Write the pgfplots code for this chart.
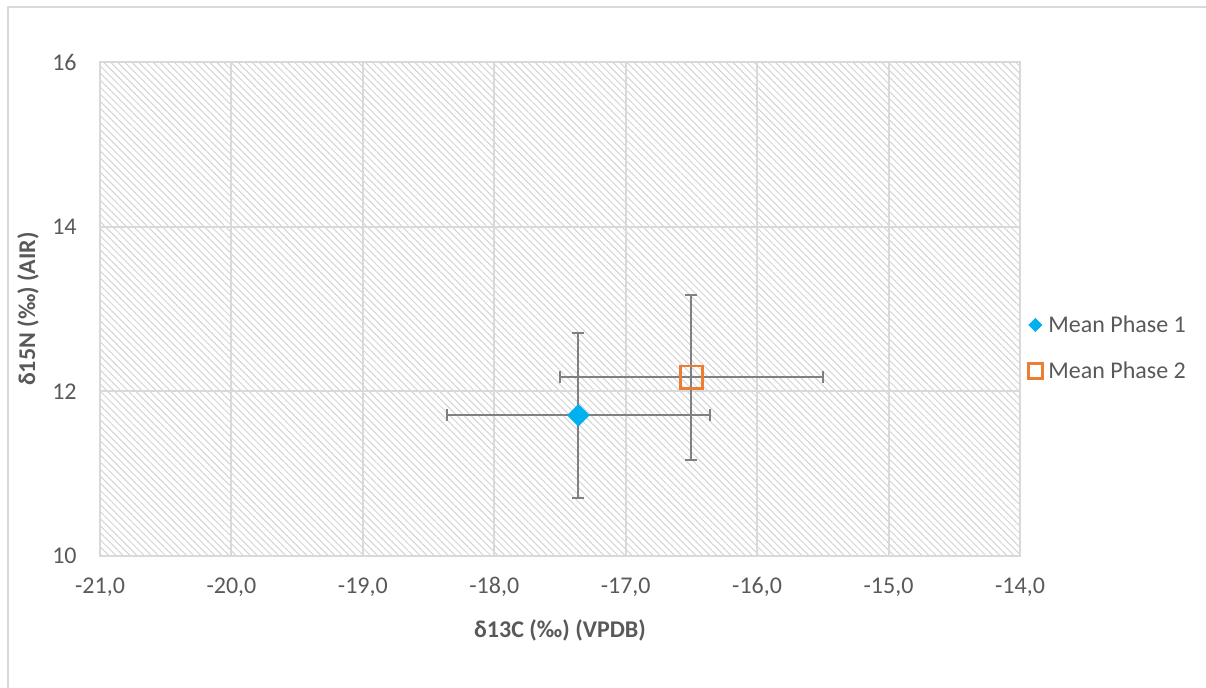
\documentclass[border=0pt]{standalone}
\usepackage{pgfplots}
\pgfplotsset{compat=1.18}
\usepackage{fontspec}
\setmainfont{Carlito}
\usetikzlibrary{patterns.meta}
\definecolor{txt}{HTML}{595959}
\definecolor{gridc}{HTML}{D9D9D9}
\definecolor{hatch}{HTML}{D4D4D4}
\definecolor{pblue}{HTML}{00B0F0}
\definecolor{porange}{HTML}{ED7D31}
\definecolor{errc}{HTML}{808080}
\begin{document}
\fontsize{12}{14.4}\selectfont
\begin{tikzpicture}
\path[use as bounding box] (-50pt,-65.5pt) rectangle (553pt,278pt);
\draw[gridc, line width=0.75pt] (-46pt,-70pt) -- (-46pt,274.5pt) -- (560pt,274.5pt);
\begin{axis}[
  scale only axis, width=460pt, height=247pt,
  xmin=-21, xmax=-14, ymin=10, ymax=16,
  xtick={-21,-20,-19,-18,-17,-16,-15,-14},
  ytick={10,12,14,16},
  axis background/.style={pattern={Lines[angle=-45,distance=2.5pt,line width=0.5pt]}, pattern color=hatch},
  grid=major,
  major grid style={gridc, line width=1pt},
  axis line style={gridc, line width=1pt},
  tick style={draw=none},
  major tick length=0pt,
  /pgf/number format/assume math mode=true,
  tick label style={font=\fontsize{12}{14.4}\selectfont, text=txt},
  xticklabel style={/pgf/number format/fixed, /pgf/number format/fixed zerofill,
    /pgf/number format/precision=1, /pgf/number format/use comma,
    anchor=center, inner sep=0pt, yshift=-15.5pt},
  yticklabel style={anchor=east, inner sep=0pt, xshift=-11.5pt},
  xlabel={δ13C (‰) (VPDB)},
  ylabel={δ15N (‰) (AIR)},
  every axis label/.append style={font=\fontsize{12}{14.4}\selectfont\bfseries, text=txt},
  xlabel style={at={(axis description cs:0.5,-0.1498)}, anchor=center},
  ylabel style={at={(axis description cs:-0.0783,0.5)}, anchor=center},
  legend style={at={(1,0.421)}, anchor=west, xshift=3.5pt, draw=none, fill=none,
    inner sep=0pt, font=\fontsize{12}{14.4}\selectfont, text=txt,
    row sep=12pt, column sep=2.5pt,
    nodes={inner sep=0pt, anchor=west, text height=9.25pt, text depth=1.75pt}},
  legend cell align=left,
  legend image code/.code={\path[draw=none, fill=none] (-4pt,-4pt) rectangle (4pt,4pt); \draw[#1] plot coordinates {(0pt,0pt)};},
]
\addplot[forget plot, only marks, mark=square*, mark size=3.8pt,
  mark options={rotate=45, fill=pblue, draw=pblue},
  error bars/.cd, x dir=both, x explicit, y dir=both, y explicit,
  error bar style={errc, line width=1pt},
  error mark options={rotate=90, errc, line width=1pt, mark size=3pt}]
  coordinates {(-17.36,11.71) +- (1.0,1.0)};
\addplot[forget plot, only marks, mark=square, mark size=5.6pt,
  mark options={draw=porange, line width=1.35pt, fill=none},
  error bars/.cd, x dir=both, x explicit, y dir=both, y explicit,
  error bar style={errc, line width=1pt},
  error mark options={rotate=90, errc, line width=1pt, mark size=3pt}]
  coordinates {(-16.50,12.17) +- (1.0,1.0)};
\addlegendimage{only marks, mark=square*, mark size=2.3pt, mark options={rotate=45, fill=pblue, draw=pblue}}
\addlegendentry{Mean Phase 1}
\addlegendimage{only marks, mark=square, mark size=3.6pt, mark options={draw=porange, line width=1.35pt, fill=none}}
\addlegendentry{Mean Phase 2}
\end{axis}
\end{tikzpicture}
\end{document}
